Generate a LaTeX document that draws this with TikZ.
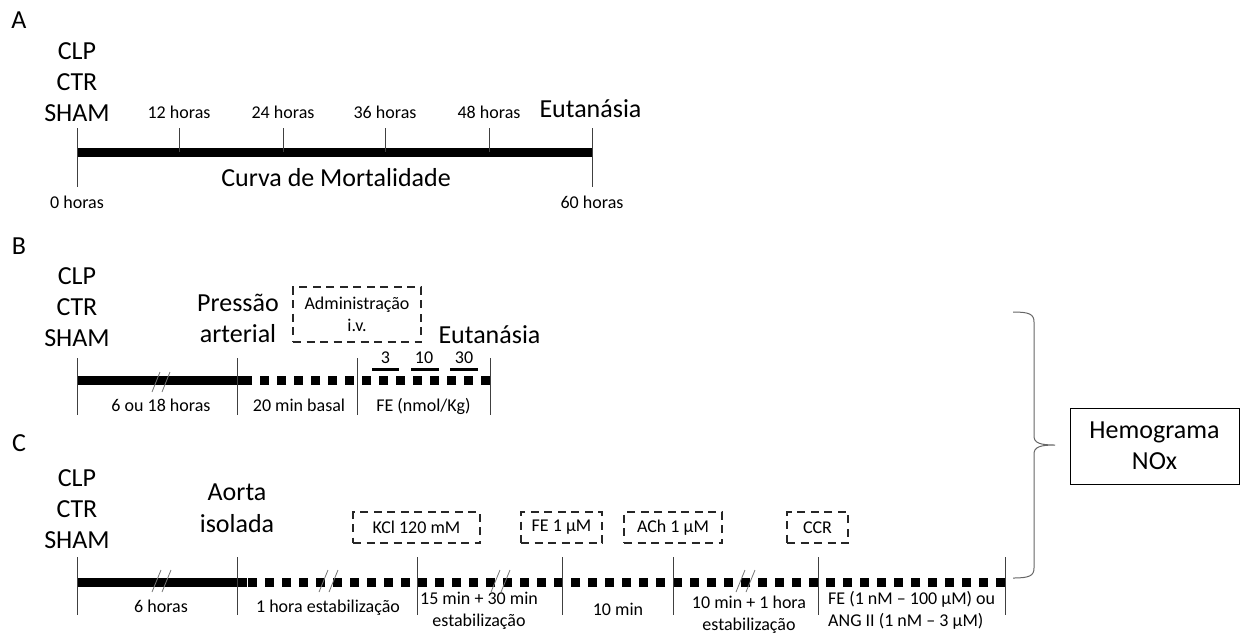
\documentclass[tikz,border=0pt]{standalone}
\usepackage{fontspec}
\setmainfont{Carlito}
\tikzset{
  big/.style={font=\fontsize{26}{31}\selectfont, inner sep=0pt, align=center},
  small/.style={font=\fontsize{18}{22}\selectfont, inner sep=0pt, align=center},
  letter/.style={font=\fontsize{26}{31}\selectfont, inner sep=0pt},
  tickline/.style={draw=black!75, line width=1pt},
  solidbar/.style={draw=black, line width=9pt},
  dotbar/.style={draw=black, line width=9pt, dash pattern=on 9pt off 8pt},
  shortbar/.style={draw=black, line width=3pt},
  dbox/.style={draw=black!85, line width=1.3pt, dash pattern=on 8pt off 5.5pt, minimum height=31pt, inner sep=0pt, font=\fontsize{18}{22}\selectfont, align=center},
  slash/.style={draw=black!55, line width=0.8pt},
  bracepath/.style={draw=black!60, line width=1pt},
}
\begin{document}
\begin{tikzpicture}[x=1pt,y=-1pt]
\useasboundingbox (0,0) rectangle (1246,633);

% ================= Panel A =================
\node[letter, anchor=base] (lA) at (19,28) {A};
\node[big] (grpA) at (77,82) {CLP\\CTR\\SHAM};
\coordinate (a0t) at (77,128);   \coordinate (a0b) at (77,187);
\coordinate (a12t) at (179,128); \coordinate (a12b) at (179,152);
\coordinate (a24t) at (283,128); \coordinate (a24b) at (283,152);
\coordinate (a36t) at (385,128); \coordinate (a36b) at (385,152);
\coordinate (a48t) at (489,128); \coordinate (a48b) at (489,152);
\coordinate (a60t) at (592,128); \coordinate (a60b) at (592,187);
\coordinate (abarl) at (77,152.5); \coordinate (abarr) at (592,152.5);
\draw[solidbar] (abarl) -- (abarr);
\foreach \n in {0,12,24,36,48,60} \draw[tickline] (a\n t) -- (a\n b);
\node[small, anchor=base] (h12) at (179,118) {12 horas};
\node[small, anchor=base] (h24) at (283,118) {24 horas};
\node[small, anchor=base] (h36) at (385,118) {36 horas};
\node[small, anchor=base] (h48) at (489,118) {48 horas};
\node[big, anchor=base] (eutA) at (590.5,117) {Eutanásia};
\node[big, anchor=base] (curva) at (336,186) {Curva de Mortalidade};
\node[small, anchor=base] (h0) at (77,208.5) {0 horas};
\node[small, anchor=base] (h60) at (592,208.5) {60 horas};

% ================= Panel B =================
\node[letter, anchor=base] (lB) at (19,254) {B};
\node[big] (grpB) at (77,307) {CLP\\CTR\\SHAM};
\node[big] (press) at (238,318.5) {Pressão\\arterial};
\node[dbox, minimum width=128pt, minimum height=55pt] (admin) at (357,314.5) {Administração\\i.v.};
\node[big, anchor=base] (eutB) at (489.5,343) {Eutanásia};
\node[small, anchor=base] (d3) at (385.5,363) {3};
\node[small, anchor=base] (d10) at (424,363) {10};
\node[small, anchor=base] (d30) at (464,363) {30};
\coordinate (s3l) at (372,369);  \coordinate (s3r) at (399,369);
\coordinate (s10l) at (411,369); \coordinate (s10r) at (439,369);
\coordinate (s30l) at (450,369); \coordinate (s30r) at (478,369);
\draw[shortbar] (s3l) -- (s3r);
\draw[shortbar] (s10l) -- (s10r);
\draw[shortbar] (s30l) -- (s30r);
\coordinate (bs) at (77,380); \coordinate (bsr) at (247,380);
\coordinate (bdl) at (237,380); \coordinate (bdr) at (490,380);
\draw[solidbar] (bs) -- (bsr);
\draw[dotbar] (bdr) -- (bdl);
\foreach \x [count=\i] in {77,237,357,490} {
  \coordinate (bt\i) at (\x,358); \coordinate (bb\i) at (\x,415);
  \draw[tickline] (bt\i) -- (bb\i);
}
\coordinate (bsl1a) at (152,392); \coordinate (bsl1b) at (160,372);
\coordinate (bsl2a) at (162,392); \coordinate (bsl2b) at (170,372);
\draw[slash] (bsl1a) -- (bsl1b);
\draw[slash] (bsl2a) -- (bsl2b);
\node[small, anchor=base] (b6) at (161,411) {6 ou 18 horas};
\node[small, anchor=base] (b20) at (299,411) {20 min basal};
\node[small, anchor=base] (bfe) at (423.5,411) {FE (nmol/Kg)};

% ================= Panel C =================
\node[letter, anchor=base] (lC) at (19,451) {C};
\node[big] (grpC) at (77,509) {CLP\\CTR\\SHAM};
\node[big, font=\fontsize{26}{32}\selectfont] (aorta) at (237,508) {Aorta\\isolada};
\node[dbox, minimum width=127pt] (kcl) at (416.5,527.5) {KCl 120 mM};
\node[dbox, minimum width=81pt] (fe1) at (561.5,527.5) {FE 1 µM};
\node[dbox, minimum width=98pt] (ach) at (673,527.5) {ACh 1 µM};
\node[dbox, minimum width=61pt] (ccr) at (817.5,527.5) {CCR};
\coordinate (cs) at (77,582); \coordinate (csr) at (247,582);
\coordinate (cdl) at (237,582); \coordinate (cdr) at (1005,582);
\draw[solidbar] (cs) -- (csr);
\draw[dotbar] (cdr) -- (cdl);
\foreach \x [count=\i] in {77,237,417,562,673,818,1005} {
  \coordinate (ct\i) at (\x,557); \coordinate (cb\i) at (\x,615);
  \draw[tickline] (ct\i) -- (cb\i);
}
\foreach \x [count=\i] in {152,319,491,736} {
  \coordinate (csa\i) at (\x,592);    \coordinate (csb\i) at (\x+9,570);
  \coordinate (csc\i) at (\x+10,592); \coordinate (csd\i) at (\x+19,570);
  \draw[slash] (csa\i) -- (csb\i);
  \draw[slash] (csc\i) -- (csd\i);
}
\node[small, anchor=base] (c6) at (161,612) {6 horas};
\node[small, anchor=base] (c1h) at (328,612) {1 hora estabilização};
\node[small] (c15) at (479,611) {15 min + 30 min\\estabilização};
\node[small, anchor=base] (c10) at (618,615) {10 min};
\node[small] (c10b) at (749,615) {10 min + 1 hora\\estabilização};
\node[small, align=left, anchor=west] (cfe) at (828,610) {FE (1 nM – 100 µM) ou\\ANG II (1 nM – 3 µM)};

% ================= Brace and box =================
\coordinate (brt) at (1013,312);
\coordinate (brm) at (1055,445);
\coordinate (brb) at (1013,578);
\draw[bracepath] (brt) .. controls (1029,312) and (1034,314) .. (1034,322)
  -- (1034,436) .. controls (1034,443) and (1040,445) .. (brm)
  .. controls (1040,445) and (1034,447) .. (1034,454)
  -- (1034,568) .. controls (1034,576) and (1029,578) .. (brb);
\node[big, draw=black, line width=1pt, minimum width=169pt, minimum height=76pt] (hemo) at (1154.5,446) {Hemograma\\NOx};
\end{tikzpicture}
\end{document}
